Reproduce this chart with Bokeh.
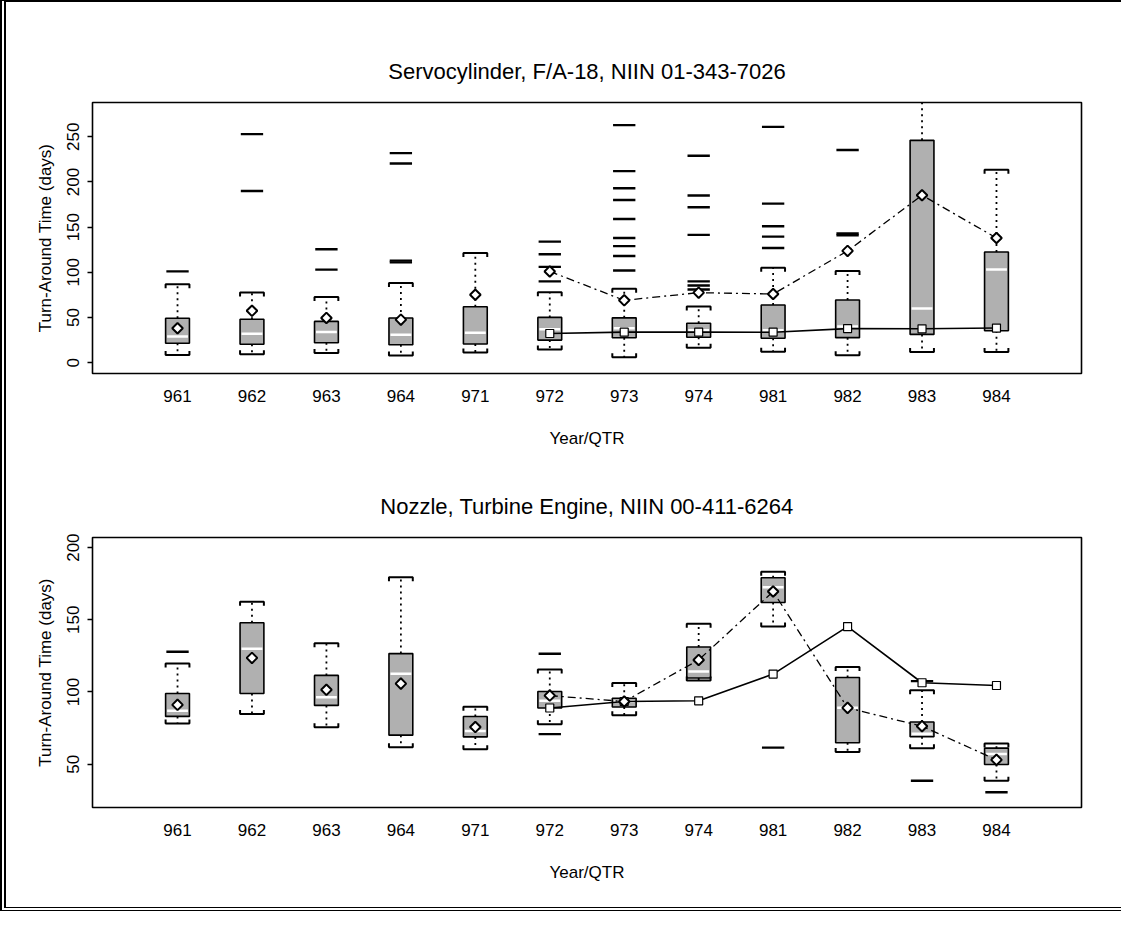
import math
from bokeh.plotting import figure
from bokeh.models import FixedTicker
from bokeh.layouts import column
from bokeh.embed import file_html
from bokeh.resources import INLINE

# ---------------- data ----------------
cats = ["961", "962", "963", "964", "971", "972", "973", "974", "981", "982", "983", "984"]
trend_cats = ["972", "973", "974", "981", "982", "983", "984"]

# Servocylinder, F/A-18
top_q1 = [21.5, 20.4, 22.1, 19.9, 20.6, 25.0, 27.5, 28.2, 27.0, 27.7, 31.3, 35.3]
top_med = [29, 32, 34, 31, 33, 37, 38, 36, 36, 40, 60, 103]
top_q3 = [49.2, 48.1, 45.7, 49.5, 61.9, 50.1, 49.6, 43.7, 63.9, 69.4, 246.1, 122.5]
top_lo = [8.6, 9.3, 10.7, 7.8, 11.3, 14.6, 6.1, 16.4, 12.2, 8.2, 11.7, 11.7]
top_hi = [86.8, 77.6, 72.8, 88.3, 121.4, 78.0, 81.8, 62.1, 105.2, 101.5, 320.0, 213.6]
top_mean = [38.1, 57.4, 49.5, 47.6, 75.2, 101.0, 69.0, 77.5, 76.0, 123.7, 185.3, 138.0]
top_std = [32.3, 33.8, 33.8, 33.7, 37.7, 37.5, 38.3]
top_out = [
    [101],
    [253, 190],
    [125.5, 103],
    [232, 220.5, 113, 111],
    [],
    [134, 120, 106, 90],
    [263, 212, 193, 180, 159, 138, 129, 118, 102],
    [229, 185, 172, 141.5, 90, 85.5, 81],
    [261, 176, 151, 139.5, 127],
    [235.5, 143, 141],
    [],
    [],
]

# Nozzle, Turbine Engine
bot_q1 = [83.1, 99.0, 90.7, 70.1, 68.9, 88.9, 89.6, 109.7, 162.0, 64.8, 69.0, 49.8]
bot_med = [87, 130, 96.3, 112.6, 73, 94, 93.4, 114.2, 172.6, 89, 71, 57]
bot_q3 = [99.0, 148.0, 111.5, 126.6, 83.0, 100.3, 95.7, 131.2, 179.1, 110.0, 79.2, 61.1]
bot_lo = [78.2, 84.7, 75.5, 61.7, 60.3, 77.6, 83.9, 108.0, 145.4, 58.4, 61.1, 38.5]
bot_hi = [119.8, 162.5, 133.7, 179.4, 89.7, 115.6, 106.3, 147.3, 183.2, 117.3, 101.2, 64.3]
bot_mean = [91.1, 123.6, 101.5, 105.8, 75.7, 97.5, 93.4, 122.2, 169.6, 89.0, 76.3, 53.0]
bot_std = [88.9, 93.4, 93.9, 112.4, 145.3, 106.4, 104.5]
bot_out = [
    [127.9], [], [], [], [],
    [126.5, 70.8], [], [], [61.5], [], [107.5, 38.5], [30.6],
]

FONT = "Liberation Sans"
BOX_FILL = "#b0b0b0"
INK = "black"


def make_chart(title, q1, med, q3, lo, hi, mean, std, outl, yr, yticks,
               height, top_b, bottom_b, frame_h):
    pos = {c: i + 1 for i, c in enumerate(cats)}
    xs = [pos[c] for c in cats]
    p = figure(width=1115, height=height, x_range=(-0.142, 13.142), y_range=yr,
               output_backend="svg", toolbar_location=None, tools="",
               min_border_left=86, min_border_right=40,
               min_border_top=top_b, min_border_bottom=bottom_b,
               title=title)
    p.title.align = "center"
    p.title.text_font = FONT
    p.title.text_font_size = "22px"
    p.title.text_font_style = "normal"
    p.title.text_color = INK
    p.title.standoff = 38

    px_per_unit = frame_h / (yr[1] - yr[0])
    d = 4.0 / px_per_unit
    hw = 0.16

    # boxes
    p.quad(left=[x - hw for x in xs], right=[x + hw for x in xs], bottom=q1, top=q3,
           fill_color=BOX_FILL, line_color=INK, line_width=1.6)
    p.segment(x0=[x - hw + 0.02 for x in xs], y0=med, x1=[x + hw - 0.02 for x in xs], y1=med,
              line_color="white", line_width=2.5)
    # whiskers
    p.segment(x0=xs, y0=q3, x1=xs, y1=hi, line_color=INK, line_width=1.8, line_dash="2 4")
    p.segment(x0=xs, y0=q1, x1=xs, y1=lo, line_color=INK, line_width=1.8, line_dash="2 4")
    cx, cy = [], []
    for x, h, l in zip(xs, hi, lo):
        cx.append([x - hw, x - hw, x + hw, x + hw])
        cy.append([h - d, h, h, h - d])
        cx.append([x - hw, x - hw, x + hw, x + hw])
        cy.append([l + d, l, l, l + d])
    p.multi_line(xs=cx, ys=cy, line_color=INK, line_width=2)
    # outliers
    ox, oy = [], []
    for x, vals in zip(xs, outl):
        for v in vals:
            ox.append(x)
            oy.append(v)
    p.segment(x0=[x - 0.15 for x in ox], y0=oy, x1=[x + 0.15 for x in ox], y1=oy,
              line_color=INK, line_width=2.4)
    # trend lines
    tx = [pos[c] for c in trend_cats]
    tmean = [mean[pos[c] - 1] for c in trend_cats]
    p.line(tx, tmean, line_color=INK, line_width=1.3, line_dash="8 4 2 4")
    p.line(tx, std, line_color=INK, line_width=1.6)
    p.scatter(tx, std, marker="square", size=8, fill_color="white", line_color=INK, line_width=1.2)
    p.scatter(xs, mean, marker="square", angle=math.pi / 4, size=7.5,
              fill_color="white", line_color=INK, line_width=2)

    # axes
    p.grid.visible = False
    p.outline_line_color = INK
    p.outline_line_width = 1.6
    p.outline_line_alpha = 1.0

    xa = p.xaxis[0]
    xa.ticker = FixedTicker(ticks=xs)
    xa.major_label_overrides = {pos[c]: c for c in cats}
    xa.major_tick_line_color = None
    xa.minor_tick_line_color = None
    xa.axis_line_color = None
    xa.major_label_standoff = 10
    xa.major_label_text_font = FONT
    xa.major_label_text_font_size = "17px"
    xa.major_label_text_color = INK
    xa.axis_label = "Year/QTR"
    xa.axis_label_text_font = FONT
    xa.axis_label_text_font_size = "17px"
    xa.axis_label_text_font_style = "normal"
    xa.axis_label_text_color = INK
    xa.axis_label_standoff = 24

    ya = p.yaxis[0]
    ya.ticker = FixedTicker(ticks=yticks)
    ya.minor_tick_line_color = None
    ya.axis_line_color = None
    ya.major_tick_in = 0
    ya.major_tick_out = 5
    ya.major_tick_line_width = 1.3
    ya.major_tick_line_color = INK
    ya.major_label_orientation = "vertical"
    ya.major_label_standoff = 8
    ya.major_label_text_font = FONT
    ya.major_label_text_font_size = "17px"
    ya.major_label_text_color = INK
    ya.axis_label = "Turn-Around Time (days)"
    ya.axis_label_text_font = FONT
    ya.axis_label_text_font_size = "17px"
    ya.axis_label_text_font_style = "normal"
    ya.axis_label_text_color = INK
    ya.axis_label_standoff = 10
    return p


p1 = make_chart("Servocylinder, F/A-18, NIIN 01-343-7026",
                top_q1, top_med, top_q3, top_lo, top_hi, top_mean, top_std, top_out,
                (-12, 288), [0, 50, 100, 150, 200, 250],
                height=451, top_b=100, bottom_b=80, frame_h=271)
p2 = make_chart("Nozzle, Turbine Engine, NIIN 00-411-6264",
                bot_q1, bot_med, bot_q3, bot_lo, bot_hi, bot_mean, bot_std, bot_out,
                (20, 207), [50, 100, 150, 200],
                height=454, top_b=84, bottom_b=100, frame_h=270)

page = column(p1, p2, styles={"border-left": "6px double black",
                              "border-top": "2px solid black",
                              "border-bottom": "4px double black"})

open("out.html", "w").write(file_html(page, INLINE))
